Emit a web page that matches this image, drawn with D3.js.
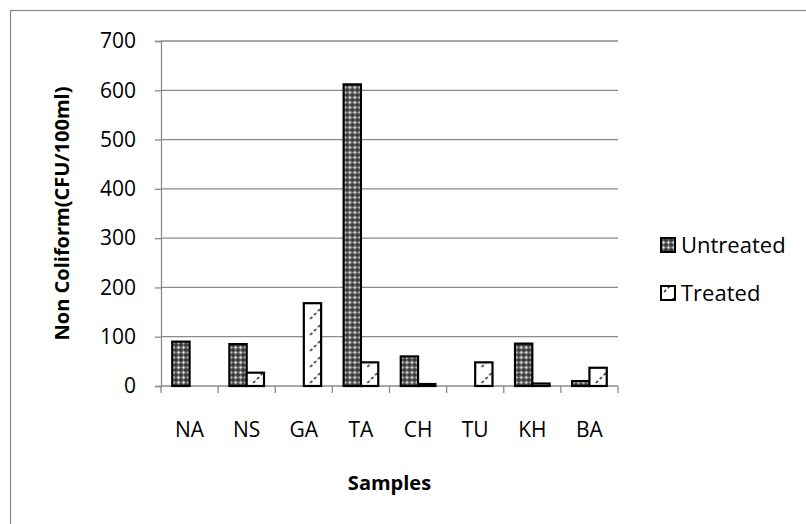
<!DOCTYPE html>
<html>
<head>
<meta charset="utf-8">
<script src="https://cdn.jsdelivr.net/npm/d3@7"></script>
<style>
  html, body { margin: 0; padding: 0; background: #fff; }
  svg { display: block; }
  text { font-family: "Open Sans", sans-serif; fill: #000; }
</style>
</head>
<body>
<svg id="chart" width="806" height="524"></svg>
<script>
// Sample sites along the x axis
const samples = ["NA", "NS", "GA", "TA", "CH", "TU", "KH", "BA"];
// Series names
const seriesNames = ["Untreated", "Treated"];
// Non coliform counts (CFU/100ml)
const untreated = [90, 85, 0, 612, 60, 0, 86, 10];
const treated   = [0, 27, 168, 48, 4, 48, 5, 37];
// Value axis ticks
const yTicks = [0, 100, 200, 300, 400, 500, 600, 700];

const svg = d3.select("#chart");
const defs = svg.append("defs");

// Dense cross-hatch with light dots for the untreated series
const pU = defs.append("pattern").attr("id", "pat-untreated")
  .attr("patternUnits", "userSpaceOnUse").attr("width", 5).attr("height", 5);
pU.append("rect").attr("width", 5).attr("height", 5).attr("fill", "#3a3a3a");
pU.append("path").attr("d", "M0,2.5 L2.5,0 L5,2.5 L2.5,5 Z").attr("fill", "#8a8a8a");
pU.append("circle").attr("cx", 2.5).attr("cy", 2.5).attr("r", 0.9).attr("fill", "#eeeeee");

// Sparse dashed upward diagonals for the treated series
const pT = defs.append("pattern").attr("id", "pat-treated")
  .attr("patternUnits", "userSpaceOnUse").attr("width", 16).attr("height", 16)
  .attr("x", 0).attr("y", 2);
pT.append("rect").attr("width", 16).attr("height", 16).attr("fill", "#fff");
pT.append("path").attr("d", "M3,13 L13,3")
  .attr("stroke", "#333").attr("stroke-width", 1.6).attr("stroke-dasharray", "3 2.5");

const fills = { Untreated: "url(#pat-untreated)", Treated: "url(#pat-treated)" };

// Outer chart frame (runs off the right and bottom of the canvas)
svg.append("rect").attr("x", 10.5).attr("y", 10.5).attr("width", 830).attr("height", 560)
  .attr("fill", "none").attr("stroke", "#868686").attr("stroke-width", 1.2);

const plot = { left: 161, right: 618, top: 41, bottom: 386 };

const x0 = d3.scaleBand().domain(samples).range([plot.left, plot.right]).padding(0);
const x1 = d3.scaleBand().domain(seriesNames).range([0, x0.bandwidth()])
  .paddingInner(0).paddingOuter(0.65);
const y = d3.scaleLinear().domain([0, 700]).range([plot.bottom, plot.top]);

// Horizontal gridlines
svg.append("g").selectAll("line").data(yTicks.filter(d => d > 0)).join("line")
  .attr("x1", plot.left).attr("x2", plot.right)
  .attr("y1", d => y(d)).attr("y2", d => y(d))
  .attr("stroke", "#8a8a8a").attr("stroke-width", 1.3);

// Y axis
const yAxis = svg.append("g").attr("transform", `translate(${plot.left},0)`)
  .call(d3.axisLeft(y).tickValues(yTicks).tickSize(6).tickPadding(19));
yAxis.select(".domain").attr("stroke", "#8a8a8a").attr("stroke-width", 1.3);
yAxis.selectAll(".tick line").attr("stroke", "#8a8a8a").attr("stroke-width", 1.3);
yAxis.selectAll("text").attr("font-size", 21).attr("fill", "#000")
  .attr("font-family", "'Open Sans', sans-serif");

// X axis with ticks at category boundaries
const xAxis = svg.append("g").attr("transform", `translate(0,${plot.bottom})`);
xAxis.append("line").attr("x1", plot.left).attr("x2", plot.right)
  .attr("stroke", "#8a8a8a").attr("stroke-width", 1.3);
const bounds = samples.map(s => x0(s)).concat([plot.right]);
xAxis.selectAll("line.tk").data(bounds).join("line").attr("class", "tk")
  .attr("x1", d => d).attr("x2", d => d).attr("y1", 0).attr("y2", 7)
  .attr("stroke", "#8a8a8a").attr("stroke-width", 1.3);
xAxis.selectAll("text").data(samples).join("text")
  .attr("x", d => x0(d) + x0.bandwidth() / 2).attr("y", 51)
  .attr("text-anchor", "middle").attr("font-size", 21).text(d => d);

// Bars
const rows = samples.map((s, i) => ({ sample: s, Untreated: untreated[i], Treated: treated[i] }));
const groups = svg.append("g").selectAll("g").data(rows).join("g")
  .attr("transform", d => `translate(${x0(d.sample)},0)`);
groups.selectAll("rect").data(d => seriesNames.map(k => ({ key: k, value: d[k] })).filter(d => d.value > 0))
  .join("rect")
  .attr("x", d => x1(d.key)).attr("width", x1.bandwidth())
  .attr("y", d => y(d.value)).attr("height", d => y(0) - y(d.value))
  .attr("fill", d => fills[d.key]).attr("stroke", "#000").attr("stroke-width", 2.2);

// Axis titles
svg.append("text").attr("transform", `translate(69,${(plot.top + plot.bottom) / 2}) rotate(-90)`)
  .attr("text-anchor", "middle").attr("font-size", 20).attr("font-weight", "bold")
  .text("Non Coliform(CFU/100ml)");
svg.append("text").attr("x", (plot.left + plot.right) / 2).attr("y", 490)
  .attr("text-anchor", "middle").attr("font-size", 20).attr("font-weight", "bold")
  .text("Samples");

// Legend
const legend = svg.append("g").selectAll("g").data(seriesNames).join("g")
  .attr("transform", (d, i) => `translate(661,${245 + i * 48})`);
legend.append("rect").attr("x", 0).attr("y", -7).attr("width", 14).attr("height", 14)
  .attr("fill", d => fills[d]).attr("stroke", "#000").attr("stroke-width", 2);
legend.append("text").attr("x", 20).attr("y", 8).attr("font-size", 22).text(d => d);
</script>
</body>
</html>
